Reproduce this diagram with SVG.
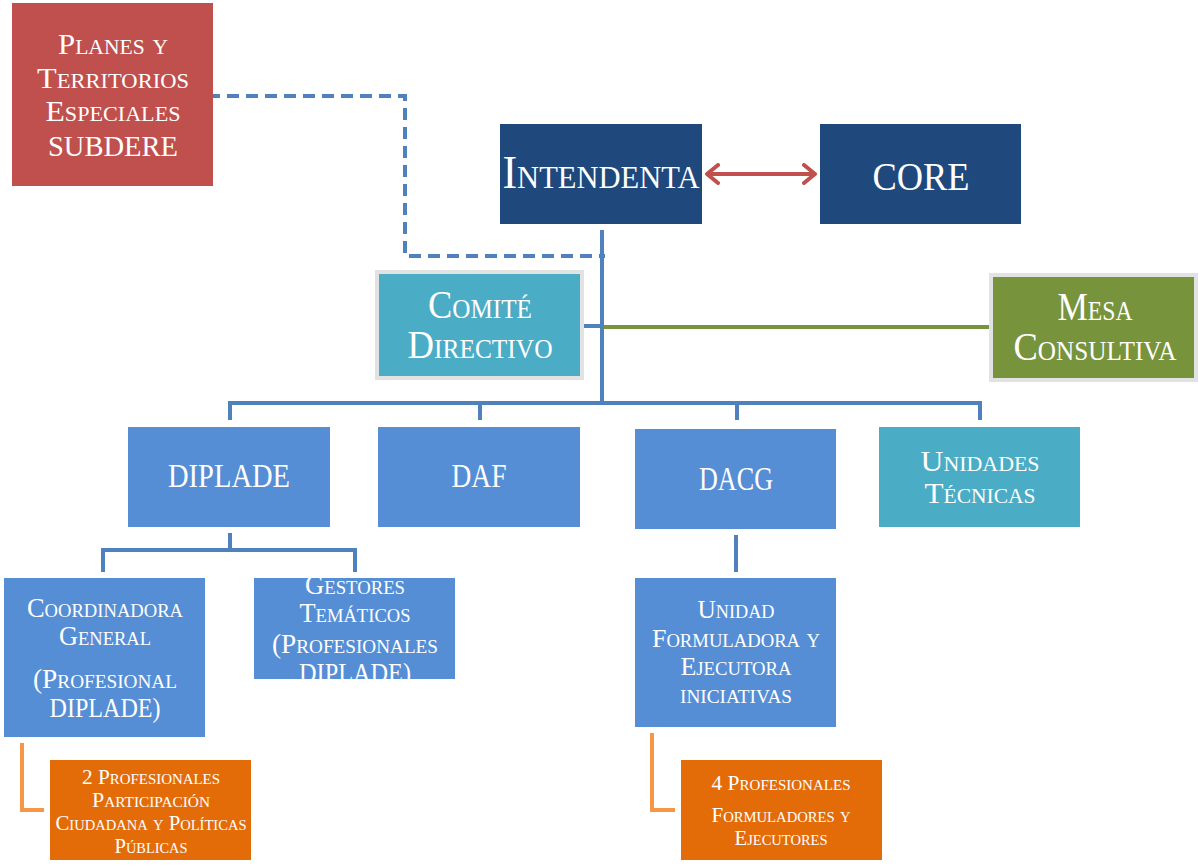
<svg xmlns="http://www.w3.org/2000/svg" width="1198" height="865" viewBox="0 0 1198 865">
<style>
text{font-family:"Liberation Serif","Times New Roman",serif;fill:#fff;text-anchor:middle;font-variant:small-caps}
.c{fill:none;stroke:#4F81BD;stroke-width:4}
.o{fill:none;stroke:#F79646;stroke-width:4}
</style>
<defs>
<marker id="ah" viewBox="0 0 16 22" refX="13" refY="11" markerWidth="16" markerHeight="22" markerUnits="userSpaceOnUse" orient="auto-start-reverse">
<path d="M2 2 L13 11 L2 20" fill="none" stroke="#C0504D" stroke-width="4" stroke-linecap="round" stroke-linejoin="round"/>
</marker>
<clipPath id="cg"><rect x="254" y="578" width="201" height="101"/></clipPath>
</defs>
<rect width="1198" height="865" fill="#fff"/>
<g id="connectors">
<path d="M208 96 H405 V256 H605" fill="none" stroke="#4F81BD" stroke-width="4" stroke-dasharray="12 7"/>
<path class="c" d="M602 230 V405"/>
<path class="c" d="M584 326 H602"/>
<path d="M604 327 H990" fill="none" stroke="#77933C" stroke-width="4"/>
<path class="c" d="M230 420 V403 H980 V420 M480 403 V420 M737 403 V420"/>
<path class="c" d="M230 533 V550 M103 572 V550 H355 V572"/>
<path class="c" d="M736 535 V572"/>
<path class="o" d="M22 743 V810 H44"/>
<path class="o" d="M652 733 V810 H675"/>
<path d="M707 174 H815" fill="none" stroke="#C0504D" stroke-width="4" marker-start="url(#ah)" marker-end="url(#ah)"/>
</g>
<g id="planes">
<rect x="12" y="3" width="201" height="183" fill="#C0504D"/>
<text font-size="30" x="113" y="54" textLength="110" lengthAdjust="spacingAndGlyphs">Planes y</text>
<text font-size="30" x="113" y="88" textLength="152" lengthAdjust="spacingAndGlyphs">Territorios</text>
<text font-size="30" x="113" y="121" textLength="135" lengthAdjust="spacingAndGlyphs">Especiales</text>
<text font-size="30" x="113" y="156" textLength="130" lengthAdjust="spacingAndGlyphs">SUBDERE</text>
</g>
<g id="intendenta">
<rect x="500" y="124" width="202" height="100" fill="#1F497D"/>
<text font-size="46" x="601" y="188" textLength="197" lengthAdjust="spacingAndGlyphs">Intendenta</text>
</g>
<g id="core">
<rect x="820" y="124" width="201" height="100" fill="#1F497D"/>
<text font-size="40" x="921" y="190" textLength="97" lengthAdjust="spacingAndGlyphs">CORE</text>
</g>
<g id="comite">
<rect x="377" y="272" width="205" height="106" fill="#4BACC6" stroke="#E2E2E2" stroke-width="4"/>
<text font-size="39" x="480" y="318" textLength="104" lengthAdjust="spacingAndGlyphs">Comité</text>
<text font-size="39" x="480" y="358" textLength="145" lengthAdjust="spacingAndGlyphs">Directivo</text>
</g>
<g id="mesa">
<rect x="991" y="275" width="205" height="105" fill="#77933C" stroke="#E2E2E2" stroke-width="4"/>
<text font-size="39" x="1095" y="320" textLength="75" lengthAdjust="spacingAndGlyphs">Mesa</text>
<text font-size="39" x="1095" y="360" textLength="163" lengthAdjust="spacingAndGlyphs">Consultiva</text>
</g>
<g id="diplade">
<rect x="128" y="427" width="202" height="100" fill="#558ED5"/>
<text font-size="33" x="229" y="487" textLength="122" lengthAdjust="spacingAndGlyphs">DIPLADE</text>
</g>
<g id="daf">
<rect x="378" y="427" width="202" height="100" fill="#558ED5"/>
<text font-size="33" x="479" y="487" textLength="55" lengthAdjust="spacingAndGlyphs">DAF</text>
</g>
<g id="dacg">
<rect x="635" y="429" width="201" height="100" fill="#558ED5"/>
<text font-size="33" x="736" y="490" textLength="74" lengthAdjust="spacingAndGlyphs">DACG</text>
</g>
<g id="unidades">
<rect x="879" y="427" width="201" height="100" fill="#4BACC6"/>
<text font-size="29" x="980" y="471" textLength="119" lengthAdjust="spacingAndGlyphs">Unidades</text>
<text font-size="29" x="980" y="503" textLength="111" lengthAdjust="spacingAndGlyphs">Técnicas</text>
</g>
<g id="coordinadora">
<rect x="4" y="578" width="201" height="159" fill="#558ED5"/>
<text font-size="27" x="105" y="617" textLength="156" lengthAdjust="spacingAndGlyphs">Coordinadora</text>
<text font-size="27" x="105" y="645" textLength="92" lengthAdjust="spacingAndGlyphs">General</text>
<text font-size="27" x="105" y="688" textLength="144" lengthAdjust="spacingAndGlyphs">(Profesional</text>
<text font-size="27" x="105" y="717" textLength="111" lengthAdjust="spacingAndGlyphs">DIPLADE)</text>
</g>
<g id="gestores">
<rect x="254" y="578" width="201" height="101" fill="#558ED5"/>
<g clip-path="url(#cg)">
<text font-size="27" x="355" y="594" textLength="100" lengthAdjust="spacingAndGlyphs">Gestores</text>
<text font-size="27" x="355" y="622" textLength="111" lengthAdjust="spacingAndGlyphs">Temáticos</text>
<text font-size="27" x="355" y="653" textLength="166" lengthAdjust="spacingAndGlyphs">(Profesionales</text>
<text font-size="27" x="355" y="682" textLength="112" lengthAdjust="spacingAndGlyphs">DIPLADE)</text>
</g>
</g>
<g id="unidad">
<rect x="635" y="578" width="201" height="149" fill="#558ED5"/>
<text font-size="25" x="736" y="618" textLength="77" lengthAdjust="spacingAndGlyphs">Unidad</text>
<text font-size="25" x="736" y="647" textLength="168" lengthAdjust="spacingAndGlyphs">Formuladora y</text>
<text font-size="25" x="736" y="675" textLength="111" lengthAdjust="spacingAndGlyphs">Ejecutora</text>
<text font-size="25" x="736" y="703" textLength="112" lengthAdjust="spacingAndGlyphs">iniciativas</text>
</g>
<g id="prof2">
<rect x="50" y="760" width="201" height="100" fill="#E36C09"/>
<text font-size="20" x="151" y="784" textLength="138" lengthAdjust="spacingAndGlyphs">2 Profesionales</text>
<text font-size="20" x="151" y="807" textLength="118" lengthAdjust="spacingAndGlyphs">Participación</text>
<text font-size="20" x="151" y="830" textLength="191" lengthAdjust="spacingAndGlyphs">Ciudadana y Políticas</text>
<text font-size="20" x="151" y="853" textLength="73" lengthAdjust="spacingAndGlyphs">Públicas</text>
</g>
<g id="prof4">
<rect x="681" y="760" width="201" height="100" fill="#E36C09"/>
<text font-size="20" x="781" y="790" textLength="139" lengthAdjust="spacingAndGlyphs">4 Profesionales</text>
<text font-size="20" x="781" y="822" textLength="139" lengthAdjust="spacingAndGlyphs">Formuladores y</text>
<text font-size="20" x="781" y="845" textLength="93" lengthAdjust="spacingAndGlyphs">Ejecutores</text>
</g>
</svg>
